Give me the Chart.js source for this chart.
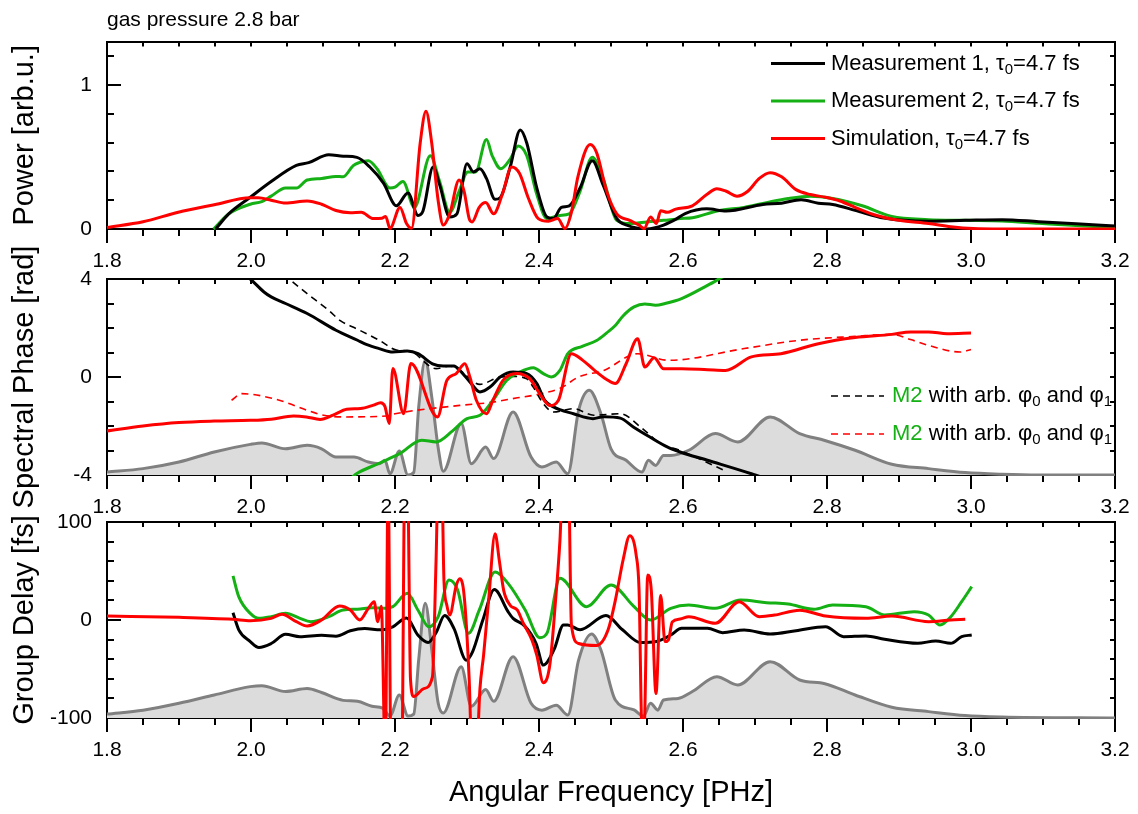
<!DOCTYPE html>
<html><head><meta charset="utf-8">
<script src="https://cdn.jsdelivr.net/npm/chart.js@4.4.1/dist/chart.umd.min.js"></script>
<style>
html,body{margin:0;padding:0;background:#fff;}
#wrap{position:relative;width:1138px;height:814px;overflow:hidden;background:#fff;}
#wrap canvas{position:absolute;left:0;top:0;}
</style></head><body>
<div id="wrap">
<canvas id="c1" width="1138" height="814"></canvas>
<canvas id="c2" width="1138" height="814"></canvas>
<canvas id="c3" width="1138" height="814"></canvas>
</div>
<script>
// ---------------- data (x = angular frequency in PHz) ----------------
const xMajorTicks = ['1.8','2.0','2.2','2.4','2.6','2.8','3.0','3.2'];

// Panel 1: power [arb.u.]
const powerM1 = [[1.951,0],[1.969,0.105],[1.999,0.22],[2.028,0.329],[2.063,0.441],[2.080,0.46],[2.108,0.515],[2.128,0.505],[2.147,0.497],[2.165,0.43],[2.184,0.318],[2.202,0.161],[2.218,0.25],[2.232,0.094],[2.239,0.127],[2.253,0.43],[2.262,0.306],[2.276,0.083],[2.286,0.105],[2.300,0.452],[2.309,0.396],[2.318,0.418],[2.327,0.351],[2.339,0.206],[2.346,0.217],[2.360,0.43],[2.374,0.687],[2.383,0.597],[2.397,0.284],[2.411,0.083],[2.420,0.072],[2.431,0.15],[2.442,0.161],[2.457,0.284],[2.474,0.474],[2.489,0.306],[2.508,0.072],[2.522,0.027],[2.550,0.0],[2.573,0.027],[2.591,0.07],[2.603,0.107],[2.633,0.14],[2.660,0.125],[2.711,0.17],[2.737,0.179],[2.764,0.203],[2.788,0.179],[2.808,0.17],[2.839,0.13],[2.879,0.076],[2.941,0.054],[2.992,0.06],[3.043,0.065],[3.094,0.051],[3.146,0.036],[3.200,0.02]];
const powerM2 = [[1.948,0],[1.969,0.105],[1.999,0.172],[2.015,0.19],[2.028,0.228],[2.048,0.284],[2.063,0.284],[2.078,0.34],[2.098,0.351],[2.118,0.365],[2.128,0.362],[2.142,0.44],[2.150,0.46],[2.163,0.474],[2.175,0.418],[2.193,0.284],[2.200,0.29],[2.211,0.329],[2.227,0.15],[2.249,0.508],[2.262,0.329],[2.276,0.116],[2.289,0.261],[2.301,0.396],[2.312,0.396],[2.327,0.62],[2.335,0.508],[2.347,0.418],[2.360,0.485],[2.371,0.575],[2.383,0.508],[2.397,0.239],[2.411,0.072],[2.429,0.094],[2.442,0.105],[2.457,0.261],[2.474,0.497],[2.489,0.351],[2.508,0.06],[2.526,0.038],[2.550,0.049],[2.573,0.06],[2.596,0.072],[2.613,0.078],[2.649,0.127],[2.685,0.15],[2.716,0.183],[2.746,0.212],[2.777,0.228],[2.808,0.212],[2.849,0.161],[2.890,0.087],[2.941,0.065],[2.992,0.06],[3.043,0.056],[3.094,0.04],[3.146,0.024],[3.200,0.01]];
const powerSim = [[1.800,0.01],[1.850,0.05],[1.899,0.116],[1.949,0.168],[1.999,0.217],[2.010,0.217],[2.028,0.2],[2.048,0.18],[2.078,0.195],[2.098,0.172],[2.118,0.128],[2.138,0.113],[2.153,0.116],[2.170,0.072],[2.182,0.075],[2.187,0.087],[2.193,0.004],[2.207,0.15],[2.216,0.038],[2.223,0.005],[2.235,0.597],[2.243,0.817],[2.251,0.597],[2.260,0.194],[2.267,0.027],[2.276,0.105],[2.289,0.34],[2.296,0.261],[2.303,0.072],[2.307,0.049],[2.317,0.15],[2.326,0.183],[2.337,0.105],[2.349,0.239],[2.362,0.43],[2.373,0.385],[2.385,0.217],[2.399,0.072],[2.413,0.054],[2.426,0.072],[2.436,0.004],[2.445,0.116],[2.454,0.362],[2.471,0.586],[2.480,0.53],[2.494,0.261],[2.508,0.105],[2.526,0.06],[2.539,0.027],[2.546,0.004],[2.555,0.083],[2.563,0.038],[2.569,0.127],[2.578,0.116],[2.590,0.138],[2.613,0.161],[2.633,0.239],[2.647,0.28],[2.660,0.262],[2.675,0.228],[2.690,0.262],[2.706,0.351],[2.721,0.391],[2.737,0.362],[2.757,0.273],[2.777,0.239],[2.798,0.22],[2.818,0.194],[2.839,0.15],[2.869,0.094],[2.900,0.06],[2.941,0.038],[2.972,0.016],[3.003,0.003],[3.043,0.0],[3.200,0.0]];

// Panel 2: spectral phase [rad]
const phaseM1 = [[1.990,4.2],[1.999,4.0],[2.018,3.47],[2.028,3.27],[2.048,3.0],[2.078,2.59],[2.118,1.91],[2.148,1.5],[2.161,1.32],[2.178,1.16],[2.197,1.02],[2.217,1.06],[2.232,0.95],[2.252,0.54],[2.267,0.45],[2.282,0.45],[2.290,0.27],[2.304,-0.2],[2.318,-0.61],[2.332,-0.41],[2.346,0.0],[2.364,0.2],[2.383,0.14],[2.397,-0.27],[2.408,-0.95],[2.420,-1.22],[2.448,-1.5],[2.475,-1.7],[2.490,-1.62],[2.513,-1.68],[2.531,-2.04],[2.554,-2.45],[2.578,-2.85],[2.596,-3.06],[2.634,-3.4],[2.695,-3.95],[2.720,-4.2]];
const phaseM1fit = [[2.045,4.2],[2.053,4.0],[2.078,3.4],[2.108,2.72],[2.124,2.3],[2.148,1.95],[2.178,1.5],[2.202,1.1],[2.221,1.05],[2.257,0.34],[2.276,0.45],[2.290,0.27],[2.318,-0.3],[2.346,0.0],[2.364,0.02],[2.383,-0.07],[2.392,-0.41],[2.406,-1.09],[2.420,-1.43],[2.448,-1.29],[2.476,-1.56],[2.513,-1.5],[2.541,-2.04],[2.569,-2.72],[2.596,-3.0],[2.660,-3.85]];
const phaseM2 = [[2.140,-4.1],[2.147,-3.94],[2.178,-3.52],[2.207,-3.12],[2.237,-2.58],[2.257,-2.65],[2.280,-2.2],[2.300,-1.7],[2.318,-1.56],[2.336,-0.95],[2.355,-0.14],[2.373,0.2],[2.392,0.38],[2.406,0.14],[2.417,0.0],[2.429,0.27],[2.440,0.95],[2.460,1.25],[2.480,1.49],[2.494,1.8],[2.506,2.1],[2.517,2.5],[2.532,2.86],[2.547,2.98],[2.562,2.93],[2.575,3.0],[2.598,3.2],[2.634,3.74],[2.650,4.0],[2.665,4.25]];
const phaseSim = [[1.800,-2.2],[1.850,-2.0],[1.900,-1.86],[1.949,-1.8],[1.999,-1.77],[2.028,-1.72],[2.059,-1.59],[2.077,-1.63],[2.096,-1.73],[2.114,-1.56],[2.133,-1.32],[2.152,-1.29],[2.170,-1.15],[2.180,-1.05],[2.186,-1.2],[2.192,-1.9],[2.197,0.35],[2.212,-1.5],[2.222,0.55],[2.259,-1.63],[2.272,-0.14],[2.285,0.14],[2.297,0.54],[2.304,0.0],[2.313,-0.95],[2.327,-1.5],[2.336,-0.95],[2.350,-0.14],[2.369,0.14],[2.387,-0.07],[2.401,-0.68],[2.415,-1.16],[2.427,-0.95],[2.445,0.95],[2.460,0.7],[2.476,0.3],[2.494,-0.1],[2.506,-0.27],[2.521,0.54],[2.537,1.56],[2.547,0.41],[2.560,0.79],[2.573,0.34],[2.598,0.34],[2.634,0.3],[2.659,0.27],[2.695,0.82],[2.736,0.95],[2.788,1.36],[2.839,1.61],[2.890,1.74],[2.916,1.84],[2.941,1.84],[2.967,1.77],[3.000,1.8]];
const phaseSimFit = [[1.973,-0.95],[1.987,-0.68],[2.031,-0.88],[2.101,-1.56],[2.128,-1.63],[2.188,-1.59],[2.200,-1.5],[2.290,-1.16],[2.330,-1.05],[2.370,-0.85],[2.400,-0.7],[2.430,-0.45],[2.455,0.0],[2.490,0.27],[2.537,0.95],[2.580,0.68],[2.685,1.16],[2.762,1.5],[2.839,1.66],[2.890,1.74],[2.916,1.53],[2.941,1.29],[2.985,1.02],[3.000,1.12]];
const phaseSpectrum = [[1.800,-3.88],[1.850,-3.74],[1.900,-3.47],[1.949,-3.06],[1.999,-2.75],[2.015,-2.69],[2.048,-2.93],[2.078,-2.79],[2.098,-2.93],[2.118,-3.27],[2.143,-3.27],[2.163,-3.47],[2.178,-3.54],[2.186,-3.4],[2.193,-3.95],[2.206,-3.02],[2.218,-4.0],[2.226,-3.9],[2.233,-1.2],[2.242,0.68],[2.251,-0.8],[2.260,-2.9],[2.267,-3.85],[2.292,-1.9],[2.306,-3.54],[2.326,-2.86],[2.337,-3.33],[2.364,-1.43],[2.389,-3.27],[2.404,-3.67],[2.424,-3.47],[2.440,-3.95],[2.455,-1.36],[2.470,-0.54],[2.486,-1.5],[2.500,-2.93],[2.521,-3.4],[2.543,-3.88],[2.552,-3.4],[2.562,-3.61],[2.573,-3.2],[2.583,-3.2],[2.608,-2.99],[2.645,-2.31],[2.676,-2.65],[2.721,-1.63],[2.762,-2.31],[2.797,-2.59],[2.839,-2.99],[2.890,-3.56],[2.941,-3.74],[2.992,-3.9],[3.043,-3.97],[3.094,-4.0],[3.200,-4.0]];

// Panel 3: group delay [fs]
const delayM1 = [[1.975,7.5],[1.983,-10],[1.999,-22],[2.011,-28],[2.028,-24],[2.048,-14.6],[2.068,-17],[2.098,-15.6],[2.118,-16.5],[2.138,-11],[2.158,-8.8],[2.180,-10],[2.197,-7],[2.216,2],[2.232,-15.6],[2.246,-23],[2.257,-13],[2.269,4.5],[2.282,-8.8],[2.299,-41],[2.308,-32],[2.322,0],[2.338,31],[2.357,8.5],[2.364,1.7],[2.380,-6],[2.396,-24],[2.406,-46],[2.421,-30],[2.434,-5],[2.440,-5],[2.457,-10],[2.493,4.5],[2.516,-10],[2.541,-23],[2.563,-22],[2.583,-15.3],[2.598,-8.5],[2.634,-8.5],[2.655,-12.9],[2.685,-10.2],[2.721,-14.3],[2.757,-10.9],[2.798,-6.8],[2.823,-17],[2.854,-16.3],[2.880,-19.7],[2.926,-23.8],[2.951,-21.4],[2.972,-23.8],[2.987,-17],[3.001,-15.3]];
const delayM2 = [[1.975,45],[1.983,23.8],[1.999,6.8],[2.011,1.7],[2.028,3.4],[2.048,6.8],[2.068,1.7],[2.083,-1.7],[2.108,3.4],[2.128,10.2],[2.148,11],[2.168,12.6],[2.187,12],[2.197,13.6],[2.217,27.2],[2.232,10],[2.247,-7],[2.260,3.4],[2.275,40.8],[2.287,30.6],[2.302,-13.6],[2.317,10],[2.339,49],[2.357,37.4],[2.381,10],[2.401,-18],[2.411,-13.6],[2.429,42.5],[2.466,13.6],[2.500,35.7],[2.532,13.6],[2.555,0],[2.583,11.9],[2.608,15.3],[2.645,11.9],[2.680,20.4],[2.716,17.7],[2.746,16.3],[2.782,10.9],[2.808,15.3],[2.854,13.6],[2.880,5.1],[2.921,8.5],[2.941,5.1],[2.957,-5.1],[2.972,3.4],[2.987,18.7],[3.001,34]];
const delaySim = [[1.800,4],[1.900,2.7],[1.975,0.7],[1.999,-0.7],[2.028,1.7],[2.043,5.8],[2.063,-1.7],[2.078,-6.1],[2.098,0],[2.123,14.3],[2.138,10.2],[2.151,0],[2.163,11.9],[2.171,18.7],[2.176,-1.7],[2.181,14],[2.1865,-140],[2.1905,140],[2.1945,-140],[2.2095,-140],[2.2135,140],[2.2175,140],[2.2215,-60],[2.226,-78],[2.240,-70],[2.252,-58],[2.257,60],[2.260,140],[2.265,140],[2.268,40],[2.272,15],[2.276,5],[2.285,35],[2.290,42],[2.296,25],[2.303,-60],[2.307,-140],[2.313,-140],[2.318,-70],[2.323,-36],[2.330,20],[2.339,88],[2.345,60],[2.351,30],[2.360,15],[2.370,10],[2.378,-3],[2.390,-20],[2.397,-36],[2.406,-64],[2.415,-46],[2.423,20],[2.429,80],[2.433,140],[2.441,140],[2.445,-5],[2.455,-24],[2.480,-26],[2.496,-10],[2.506,20],[2.517,62],[2.526,86],[2.535,66],[2.539,30],[2.543,-110],[2.546,-110],[2.551,46],[2.556,30],[2.5625,-75],[2.569,25],[2.575,-22],[2.580,-20],[2.585,-2],[2.596,1],[2.608,3.4],[2.645,-3.4],[2.678,18.7],[2.706,3.4],[2.727,5],[2.762,10],[2.798,4],[2.854,1.7],[2.890,4],[2.941,-1.7],[2.972,0],[2.992,0.7]];
const delaySpectrum = [[1.800,-96],[1.850,-92],[1.900,-85],[1.949,-76.5],[1.999,-68],[2.015,-67],[2.048,-73],[2.078,-70],[2.098,-74],[2.128,-82],[2.148,-83],[2.168,-88],[2.183,-90],[2.193,-98],[2.206,-76.5],[2.218,-98],[2.226,-96],[2.233,-40],[2.242,17],[2.251,-30],[2.260,-85],[2.267,-95],[2.292,-47.6],[2.306,-88],[2.326,-71],[2.337,-83],[2.364,-37.4],[2.389,-85],[2.404,-92],[2.424,-87],[2.440,-97],[2.455,-41],[2.473,-14.3],[2.486,-30.6],[2.506,-81.6],[2.532,-91.8],[2.545,-98],[2.555,-85],[2.565,-92],[2.573,-81.6],[2.593,-80],[2.613,-73],[2.647,-57.8],[2.676,-66.3],[2.721,-42.5],[2.762,-61.2],[2.797,-65],[2.839,-76.5],[2.890,-89],[2.941,-93.5],[2.992,-97.5],[3.043,-99],[3.200,-100]];

// ---------------- styling ----------------
const BLACK = '#000000', GREEN = '#14b014', RED = '#ff0000', GRAY = '#808080', FILLGRAY = '#dcdcdc';
const FONT = '"Liberation Sans", Arial, Helvetica, sans-serif';
Chart.defaults.font.family = FONT;
Chart.defaults.color = '#000';

const pts = arr => arr.map(p => ({x: p[0], y: p[1]}));
const line = (label, arr, color, extra) => Object.assign({
  label, data: pts(arr), borderColor: color, backgroundColor: color,
  borderWidth: 3, pointRadius: 0, fill: false, cubicInterpolationMode: 'monotone', clip: 1
}, extra || {});
const dashed = (label, arr, color) => line(label, arr, color, {borderWidth: 1.6, borderDash: [7, 5]});
const area = (label, arr) => line(label, arr, GRAY, {fill: 'start', backgroundColor: FILLGRAY, borderColor: GRAY});

const richLegend = {
  id: 'richLegend',
  afterDatasetsDraw(chart, args, o) {
    if (!o || !o.items) return;
    const {ctx, chartArea} = chart;
    ctx.save();
    o.items.forEach((it, i) => {
      const y = chartArea.top + o.top + i * o.gap;
      const x0 = chartArea.right - o.right;
      ctx.beginPath();
      ctx.setLineDash(it.dash || []);
      ctx.strokeStyle = it.color; ctx.lineWidth = it.width;
      ctx.moveTo(x0, y); ctx.lineTo(x0 + o.lineLen, y); ctx.stroke();
      ctx.setLineDash([]);
      let x = x0 + o.lineLen + o.textGap;
      ctx.textBaseline = 'middle'; ctx.textAlign = 'left';
      it.parts.forEach(p => {
        ctx.font = (p.sub ? o.subSize : o.size) + 'px ' + FONT;
        ctx.fillStyle = p.color || '#000';
        ctx.fillText(p.t, x, y + (p.sub ? o.subShift : 0));
        x += ctx.measureText(p.t).width;
      });
    });
    ctx.restore();
  }
};

function makeScales(c) {
  const tickFont = {size: 21, family: FONT};
  const fixH = h => s => { s.height = h; };
  const fixW = w => s => { s.width = w; };
  const lin = {type: 'linear', min: 1.8, max: 3.2};
  return {
    x: Object.assign({}, lin, {position: 'bottom', weight: 1,
      ticks: {stepSize: 0.2, autoSkip: false, maxRotation: 0, includeBounds: false, font: tickFont, color: '#000', padding: 6,
              callback: v => xMajorTicks.find(t => Math.abs(parseFloat(t) - v) < 1e-6) || ''},
      grid: {drawOnChartArea: false, tickLength: 14, color: '#000', lineWidth: 2},
      border: {color: '#000', width: 2},
      title: c.xTitle ? {display: true, text: c.xTitle, color: '#000', font: {size: 29, family: FONT}, padding: {top: 0, bottom: 4}} : {display: false},
      afterFit: fixH(c.botH)}),
    xMinor: Object.assign({}, lin, {position: 'bottom', weight: 0,
      ticks: {stepSize: 0.05, display: false, autoSkip: false, includeBounds: false},
      grid: {drawOnChartArea: false, tickLength: 7, color: '#000', lineWidth: 2},
      border: {display: false}, afterFit: fixH(0)}),
    xTop: Object.assign({}, lin, {position: 'top',
      ticks: {stepSize: 0.05, display: false, autoSkip: false, includeBounds: false},
      grid: {drawOnChartArea: false, tickLength: -5, color: '#000', lineWidth: 2},
      border: {color: '#000', width: 2},
      title: c.topTitle ? {display: true, text: c.topTitle, align: 'start', color: '#000', font: {size: 21, family: FONT}, padding: {top: 1, bottom: 0}} : {display: false},
      afterFit: fixH(c.topH)}),
    y: {type: 'linear', position: 'left', weight: 1, min: c.ymin, max: c.ymax,
      ticks: {stepSize: c.yMajor, includeBounds: false, font: tickFont, color: '#000', padding: 29, callback: v => String(v)},
      grid: {drawOnChartArea: false, tickLength: -14, color: '#000', lineWidth: 2},
      border: {color: '#000', width: 2},
      title: {display: true, text: c.yTitle, color: '#000', font: {size: 29, family: FONT}, padding: {top: 8, bottom: 0}},
      afterFit: fixW(107)},
    yMinor: {type: 'linear', position: 'left', weight: 0, min: c.ymin, max: c.ymax,
      ticks: {stepSize: c.yMinor, display: false, includeBounds: false},
      grid: {drawOnChartArea: false, tickLength: -7, color: '#000', lineWidth: 2},
      border: {display: false}, afterFit: fixW(0)},
    yRight: {type: 'linear', position: 'right', min: c.ymin, max: c.ymax,
      ticks: {stepSize: c.yMinor, display: false, includeBounds: false},
      grid: {drawOnChartArea: false, tickLength: -5, color: '#000', lineWidth: 2},
      border: {color: '#000', width: 2}, afterFit: fixW(23)}
  };
}

function makeChart(id, datasets, c, legend) {
  return new Chart(document.getElementById(id), {
    type: 'line',
    data: {datasets},
    plugins: [richLegend],
    options: {
      responsive: false, animation: false, devicePixelRatio: 1,
      layout: {padding: {top: c.padTop, bottom: c.padBot, left: 0, right: 0}},
      plugins: {legend: {display: false}, tooltip: {enabled: false}, richLegend: legend || {}},
      scales: makeScales(c)
    }
  });
}

const sub = t => ({t, sub: true});

makeChart('c1', [
  line('Simulation, τ0=4.7 fs', powerSim, RED),
  line('Measurement 1, τ0=4.7 fs', powerM1, BLACK),
  line('Measurement 2, τ0=4.7 fs', powerM2, GREEN)
], {ymin: 0, ymax: 1.3, yMajor: 1, yMinor: 0.2, yTitle: 'Power [arb.u.]', topTitle: 'gas pressure 2.8 bar', topH: 35, botH: 40, padTop: 0, padBot: 545},
{top: 22, gap: 37.5, right: 344, lineLen: 54, textGap: 6, size: 22, subSize: 15, subShift: 6, items: [
  {color: BLACK, width: 3, parts: [{t: 'Measurement 1, τ'}, sub('0'), {t: '=4.7 fs'}]},
  {color: GREEN, width: 3, parts: [{t: 'Measurement 2, τ'}, sub('0'), {t: '=4.7 fs'}]},
  {color: RED, width: 3, parts: [{t: 'Simulation, τ'}, sub('0'), {t: '=4.7 fs'}]}
]});

makeChart('c2', [
  line('Simulation phase', phaseSim, RED),
  line('Measurement 1 phase', phaseM1, BLACK),
  line('Measurement 2 phase', phaseM2, GREEN),
  dashed('M2 with arb. φ0 and φ1 (red)', phaseSimFit, RED),
  dashed('M2 with arb. φ0 and φ1 (black)', phaseM1fit, BLACK),
  area('Spectrum', phaseSpectrum)
], {ymin: -4, ymax: 4, yMajor: 4, yMinor: 1, yTitle: 'Spectral Phase [rad]', topH: 8, botH: 40, padTop: 271, padBot: 299},
{top: 117, gap: 38, right: 284, lineLen: 53, textGap: 8, size: 22, subSize: 15, subShift: 6, items: [
  {color: BLACK, width: 1.6, dash: [7, 5], parts: [{t: 'M2', color: GREEN}, {t: ' with arb. φ'}, sub('0'), {t: ' and φ'}, sub('1')]},
  {color: RED, width: 1.6, dash: [7, 5], parts: [{t: 'M2', color: GREEN}, {t: ' with arb. φ'}, sub('0'), {t: ' and φ'}, sub('1')]}
]});

makeChart('c3', [
  line('Simulation group delay', delaySim, RED),
  line('Measurement 2 group delay', delayM2, GREEN),
  line('Measurement 1 group delay', delayM1, BLACK),
  area('Spectrum', delaySpectrum)
], {ymin: -100, ymax: 100, yMajor: 100, yMinor: 20, yTitle: 'Group Delay [fs]', xTitle: 'Angular Frequency [PHz]', topH: 8, botH: 96, padTop: 514, padBot: 0});
</script>
</body></html>
